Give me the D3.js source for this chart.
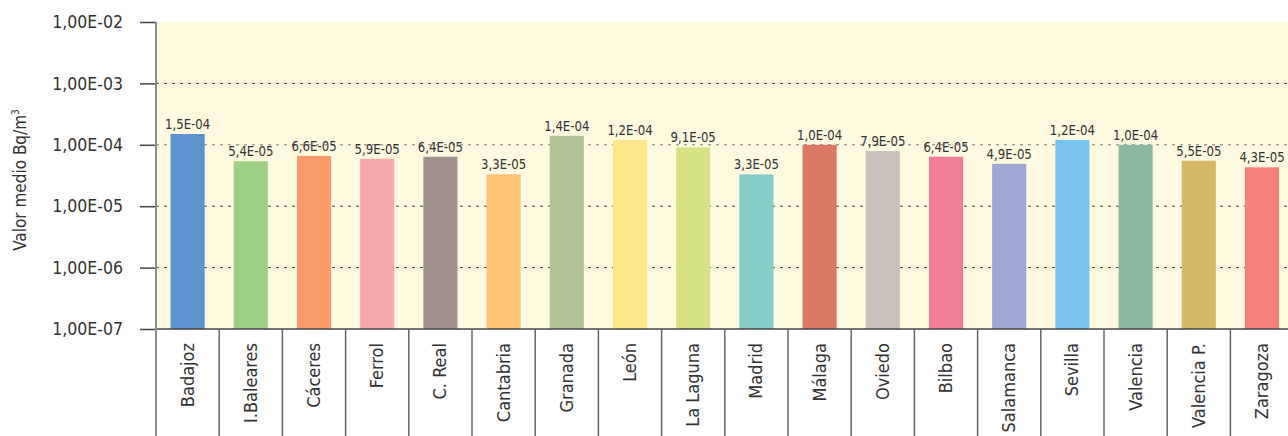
<!DOCTYPE html>
<html><head><meta charset="utf-8">
<script src="https://cdn.jsdelivr.net/npm/d3@7"></script>
<style>
html,body{margin:0;padding:0;background:#fff;}
svg{display:block;}
text{font-family:"Liberation Sans Narrow","DejaVu Sans Condensed",sans-serif;fill:#333;}
</style></head>
<body>
<svg id="chart" width="1288" height="436"></svg>
<script>
const categories = ["Badajoz","I.Baleares","Cáceres","Ferrol","C. Real","Cantabria","Granada","León","La Laguna","Madrid","Málaga","Oviedo","Bilbao","Salamanca","Sevilla","Valencia","Valencia P.","Zaragoza"];
const values = [1.5e-4,5.4e-5,6.6e-5,5.9e-5,6.4e-5,3.3e-5,1.4e-4,1.2e-4,9.1e-5,3.3e-5,1.0e-4,7.9e-5,6.4e-5,4.9e-5,1.2e-4,1.0e-4,5.5e-5,4.3e-5];
const valueLabels = ["1,5E-04","5,4E-05","6,6E-05","5,9E-05","6,4E-05","3,3E-05","1,4E-04","1,2E-04","9,1E-05","3,3E-05","1,0E-04","7,9E-05","6,4E-05","4,9E-05","1,2E-04","1,0E-04","5,5E-05","4,3E-05"];
const colors = ["#5b93cf","#9dd085","#f89a6a","#f6a9ab","#a0918d","#fdc374","#b1c298","#fee78a","#d5e385","#82cdc8","#db7864","#c9c0bc","#f07f97","#9fa7d5","#79c4ee","#8cb8a0","#d5b866","#f3837b"];
const tickValues = [1e-7,1e-6,1e-5,1e-4,1e-3,1e-2];
const tickLabels = ["1,00E-07","1,00E-06","1,00E-05","1,00E-04","1,00E-03","1,00E-02"];
const yTitle = "Valor medio Bq/m";

(function(){
const svg = d3.select("#chart");
const mLeft = 156, mTop = 22, mBottom = 329, mRight = 156 + 18*63.2;

const x = d3.scaleBand().domain(categories).range([mLeft, mRight]).paddingInner(0.46).paddingOuter(0.23);
const y = d3.scaleLog().domain([1e-7,1e-2]).range([mBottom, mTop]);
const step = x.step();

svg.append("rect").attr("x", mLeft).attr("y", mTop).attr("width", mRight-mLeft).attr("height", mBottom-mTop).attr("fill", "#fefadf");

svg.append("g").selectAll("line").data(tickValues.slice(1,5)).join("line")
  .attr("x1", mLeft).attr("x2", mRight).attr("y1", d=>y(d)).attr("y2", d=>y(d))
  .attr("stroke", (d)=>d===1e-4 ? "#777" : "#444").attr("stroke-width", 1).attr("stroke-dasharray", "3,5");

svg.append("g").selectAll("rect").data(values).join("rect")
  .attr("x", (d,i)=>x(categories[i])).attr("width", x.bandwidth())
  .attr("y", d=>y(d)).attr("height", d=>mBottom - y(d))
  .attr("fill", (d,i)=>colors[i]);

svg.append("g").selectAll("text").data(values).join("text")
  .attr("transform", (d,i)=>`translate(${x(categories[i]) + x.bandwidth()/2},${y(d) - 5}) scale(0.9,1)`)
  .attr("text-anchor", "middle").attr("font-size", 14.5).attr("fill", "#333")
  .text((d,i)=>valueLabels[i]);

const yAxis = d3.axisLeft(y).tickValues(tickValues).tickFormat((d,i)=>tickLabels[i]).tickSize(16).tickPadding(17);
const ya = svg.append("g").attr("transform", `translate(${mLeft},0)`).call(yAxis);
ya.select(".domain").remove();
ya.selectAll(".tick line").attr("stroke", "#444").attr("stroke-width", 1.5);
ya.selectAll(".tick text").attr("font-size", 17.5).attr("fill", "#333").style("font-family", '"Liberation Sans Narrow","DejaVu Sans Condensed",sans-serif');

svg.append("line").attr("x1", mLeft).attr("x2", mRight).attr("y1", mBottom).attr("y2", mBottom).attr("stroke", "#444").attr("stroke-width", 1.5);
svg.append("g").selectAll("line").data(categories.slice(1)).join("line")
  .attr("x1", d=>x(d) - x.paddingOuter()*step).attr("x2", d=>x(d) - x.paddingOuter()*step)
  .attr("y1", mBottom).attr("y2", 436).attr("stroke", "#666").attr("stroke-width", 1.5);
svg.append("line").attr("x1", mLeft).attr("x2", mLeft).attr("y1", mTop).attr("y2", 436).attr("stroke", "#8c8c8c").attr("stroke-width", 2);

svg.append("g").selectAll("text").data(categories).join("text")
  .attr("transform", d=>`translate(${x(d)+x.bandwidth()/2 + 6},343) rotate(-90)`)
  .attr("text-anchor", "end").attr("font-size", 18).attr("fill", "#333")
  .text(d=>d);

const t = svg.append("text").attr("transform", "translate(26,180) rotate(-90)").attr("text-anchor", "middle").attr("font-size", 17).attr("fill", "#333");
t.append("tspan").text(yTitle);
t.append("tspan").attr("font-size", 10).attr("dy", -7).text("3");
})();
</script>
</body></html>
